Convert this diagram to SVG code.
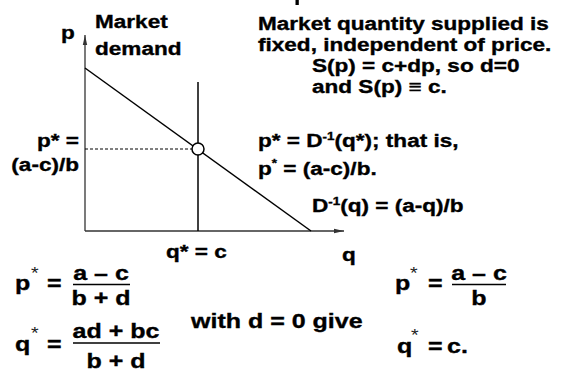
<svg xmlns="http://www.w3.org/2000/svg" width="561" height="371" viewBox="0 0 561 371">
<style>
.t{font-family:"Liberation Sans",Arial,sans-serif;font-weight:bold;font-size:18.5px;fill:#000;stroke:#000;stroke-width:0.35}
.f{font-size:20.5px}
.m{text-anchor:middle}
.sup{font-size:11px}
.ast{font-family:"Liberation Sans",Arial,sans-serif;font-weight:normal;font-size:16px;fill:#222}
.ax{stroke:#333;stroke-width:1.3;fill:none}
.ln{stroke:#000;stroke-width:1.5;fill:none}
.bar{stroke:#000;stroke-width:1.5}
</style>
<defs>
<marker id="arr" viewBox="0 0 10 6" refX="10" refY="3" markerWidth="10" markerHeight="6" markerUnits="userSpaceOnUse" orient="auto">
<path d="M0,0.8 L10,3 L0,5.2 Z" fill="#333"/>
</marker>
</defs>
<rect x="295.5" y="0" width="3.3" height="5" fill="#000"/>
<g id="connectors">
<line class="ax" x1="85" y1="231" x2="85" y2="35" marker-end="url(#arr)"/>
<line class="ax" x1="85" y1="231" x2="344" y2="231" marker-end="url(#arr)"/>
<line class="ln" x1="85" y1="68" x2="311" y2="231"/>
<line class="ln" x1="198" y1="82" x2="198" y2="231"/>
<line x1="85" y1="149" x2="192" y2="149" stroke="#000" stroke-width="1" stroke-dasharray="3,2"/>
</g>
<g id="equilibrium">
<circle cx="198" cy="149" r="6" fill="#fff" stroke="#000" stroke-width="1.5"/>
</g>
<g id="axis-labels">
<text class="t" transform="translate(61,39) scale(1.22,1)">p</text>
<text class="t" transform="translate(342,261) scale(1.22,1)">q</text>
<text class="t" transform="translate(166,258) scale(1.22,1)">q* = c</text>
<text class="t" transform="translate(79,147) scale(1.22,1)" text-anchor="end">p* =</text>
<text class="t" transform="translate(79,171) scale(1.22,1)" text-anchor="end">(a-c)/b</text>
</g>
<g id="demand-label">
<text class="t" transform="translate(95,28) scale(1.22,1)">Market</text>
<text class="t" transform="translate(95,55) scale(1.22,1)">demand</text>
</g>
<g id="supply-text">
<text class="t" transform="translate(258,30) scale(1.22,1)">Market quantity supplied is</text>
<text class="t" transform="translate(258,51) scale(1.22,1)">fixed, independent of price.</text>
<text class="t" transform="translate(312,72) scale(1.22,1)">S(p) = c+dp, so d=0</text>
<text class="t" transform="translate(312,93) scale(1.22,1)">and S(p) ≡ c.</text>
</g>
<g id="equilibrium-text">
<text class="t" transform="translate(258,147) scale(1.22,1)">p* = D<tspan class="sup" dy="-7">-1</tspan><tspan dy="7">(q*); that is,</tspan></text>
<text class="t" transform="translate(258,175) scale(1.22,1)">p<tspan class="sup" dy="-8">*</tspan><tspan dy="8"> = (a-c)/b.</tspan></text>
<text class="t" transform="translate(312,212) scale(1.22,1)">D<tspan class="sup" dy="-7">-1</tspan><tspan dy="7">(q) = (a-q)/b</tspan></text>
</g>
<g id="formula-left">
<text class="t f" transform="translate(15,290) scale(1.22,1)">p</text>
<text class="ast" transform="translate(31,279) scale(1.22,1)">*</text>
<text class="t f" transform="translate(47,290) scale(1.22,1)">=</text>
<text class="t f m" transform="translate(101,280) scale(1.22,1)">a – c</text>
<line class="bar" x1="73" y1="284.5" x2="130" y2="284.5"/>
<text class="t f m" transform="translate(101,305) scale(1.22,1)">b + d</text>
<text class="t f" transform="translate(15,351) scale(1.22,1)">q</text>
<text class="ast" transform="translate(31,339) scale(1.22,1)">*</text>
<text class="t f" transform="translate(47,351) scale(1.22,1)">=</text>
<text class="t f m" transform="translate(116,338) scale(1.22,1)">ad + bc</text>
<line class="bar" x1="73" y1="343" x2="160" y2="343"/>
<text class="t f m" transform="translate(116,368) scale(1.22,1)">b + d</text>
</g>
<g id="with-text">
<text class="t f" transform="translate(191,328) scale(1.22,1)">with d = 0 give</text>
</g>
<g id="formula-right">
<text class="t f" transform="translate(395,290) scale(1.22,1)">p</text>
<text class="ast" transform="translate(410,279) scale(1.22,1)">*</text>
<text class="t f" transform="translate(428,290) scale(1.22,1)">=</text>
<text class="t f m" transform="translate(479,280) scale(1.22,1)">a – c</text>
<line class="bar" x1="452" y1="284.5" x2="506" y2="284.5"/>
<text class="t f m" transform="translate(479,305) scale(1.22,1)">b</text>
<text class="t f" transform="translate(397,353) scale(1.22,1)">q</text>
<text class="ast" transform="translate(411,341) scale(1.22,1)">*</text>
<text class="t f" transform="translate(428,353) scale(1.22,1)">=</text>
<text class="t f" transform="translate(447,353) scale(1.22,1)">c.</text>
</g>
</svg>
